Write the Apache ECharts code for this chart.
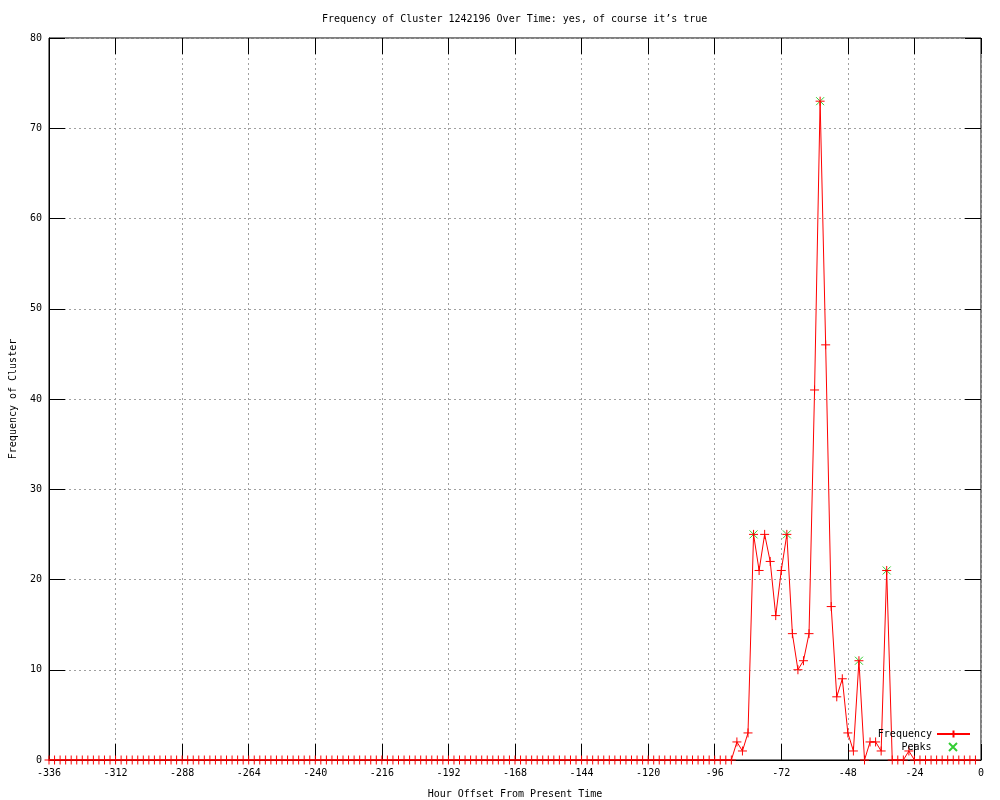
<!DOCTYPE html>
<html>
<head>
<meta charset="utf-8">
<script src="https://cdn.jsdelivr.net/npm/echarts@6/dist/echarts.min.js"></script>
<style>html,body{margin:0;padding:0;background:#fff}#c{width:1000px;height:800px}</style>
</head>
<body>
<div id="c"></div>
<script>
// Hour offsets: every 2 hours from -336 to -2
const hourStart = -336, hourStep = 2;
// Frequency values (one per 2-hour bin)
const freqValues = [
  0,0,0,0,0,0,0,0,0,0, 0,0,0,0,0,0,0,0,0,0,
  0,0,0,0,0,0,0,0,0,0, 0,0,0,0,0,0,0,0,0,0,
  0,0,0,0,0,0,0,0,0,0, 0,0,0,0,0,0,0,0,0,0,
  0,0,0,0,0,0,0,0,0,0, 0,0,0,0,0,0,0,0,0,0,
  0,0,0,0,0,0,0,0,0,0, 0,0,0,0,0,0,0,0,0,0,
  0,0,0,0,0,0,0,0,0,0, 0,0,0,0,0,0,0,0,0,0,
  0,0,0,0,
  2,1,3,25,21,25,22,16,21,25,
  14,10,11,14,41,73,46,17,7,9,
  3,1,11,0,2,2,1,21,0,0,
  0,1,0,0,0,0,0,0,0,0,
  0,0,0,0
];
const peakHours = [-82, -70, -58, -44, -34];
const peakValues = [25, 25, 73, 11, 21];
const xTicks = { min: -336, max: 0, interval: 24 };
const yTicks = { min: 0, max: 80, interval: 10 };

const freqData = freqValues.map((v, i) => [hourStart + i * hourStep, v]);
const peakData = peakHours.map((h, i) => [h, peakValues[i]]);

const FONT = 'DejaVu Sans Mono';
const plusPath = 'path://M0,5L10,5M5,0L5,10';
const crossPath = 'path://M0,0L10,10M10,0L0,10';
const gridLine = { show: true, lineStyle: { color: '#a0a0a0', type: [2, 3], width: 1 } };
const txt = { fontFamily: FONT, fontSize: 10, color: '#000' };

const chart = echarts.init(document.getElementById('c'), null, { renderer: 'canvas' });
chart.setOption({
  animation: false,
  backgroundColor: '#fff',
  title: {
    text: 'Frequency of Cluster 1242196 Over Time: yes, of course it\u2019s true',
    left: 317, top: 9,
    textStyle: Object.assign({ fontWeight: 'normal' }, txt)
  },
  grid: { left: 49, right: 19, top: 38, bottom: 40, outerBoundsMode: 'none', containLabel: false,
    show: true, borderColor: '#000', borderWidth: 1, backgroundColor: 'transparent' },
  legend: [
    { data: ['Frequency'], orient: 'horizontal', align: 'right', right: 24, top: 724,
      itemWidth: 33, itemHeight: 9, textStyle: txt, itemGap: 0 },
    { data: ['Peaks'], orient: 'horizontal', align: 'right', right: 37, top: 737,
      itemWidth: 33, itemHeight: 8, textStyle: txt, itemGap: 0 }
  ],
  xAxis: [
    { type: 'value', min: xTicks.min, max: xTicks.max, interval: xTicks.interval, position: 'bottom',
      name: 'Hour Offset From Present Time', nameLocation: 'middle', nameGap: 29, nameTextStyle: txt,
      axisLine: { show: true, onZero: false, lineStyle: { color: '#000' } },
      axisTick: { show: true, inside: true, length: 16, lineStyle: { color: '#000' } },
      axisLabel: Object.assign({ margin: 8 }, txt),
      splitLine: gridLine },
    { type: 'value', min: xTicks.min, max: xTicks.max, interval: xTicks.interval, position: 'top',
      axisLine: { show: false, onZero: false }, axisLabel: { show: false }, splitLine: { show: false },
      axisTick: { show: true, inside: true, length: 16, lineStyle: { color: '#000' } } }
  ],
  yAxis: [
    { type: 'value', min: yTicks.min, max: yTicks.max, interval: yTicks.interval, position: 'left',
      name: 'Frequency of Cluster', nameLocation: 'middle', nameGap: 31, nameRotate: 90, nameTextStyle: txt,
      axisLine: { show: true, onZero: false, lineStyle: { color: '#000' } },
      axisTick: { show: true, inside: true, length: 16, lineStyle: { color: '#000' } },
      axisLabel: Object.assign({ margin: 7 }, txt),
      splitLine: gridLine },
    { type: 'value', min: yTicks.min, max: yTicks.max, interval: yTicks.interval, position: 'right',
      axisLine: { show: false, onZero: false }, axisLabel: { show: false }, splitLine: { show: false },
      axisTick: { show: true, inside: true, length: 16, lineStyle: { color: '#000' } } }
  ],
  series: [
    { name: 'Frequency', type: 'line', data: freqData, xAxisIndex: 0, yAxisIndex: 0,
      showAllSymbol: true, symbol: plusPath, symbolSize: 9,
      lineStyle: { color: '#ff0000', width: 1 },
      itemStyle: { color: '#ff0000', borderColor: '#ff0000', borderWidth: 1 },
      z: 3 },
    { name: 'Peaks', type: 'scatter', data: peakData, xAxisIndex: 0, yAxisIndex: 0,
      symbol: crossPath, symbolSize: 8,
      itemStyle: { color: '#00c000', borderColor: '#00c000', borderWidth: 1 },
      z: 2 }
  ]
});
</script>
</body>
</html>
